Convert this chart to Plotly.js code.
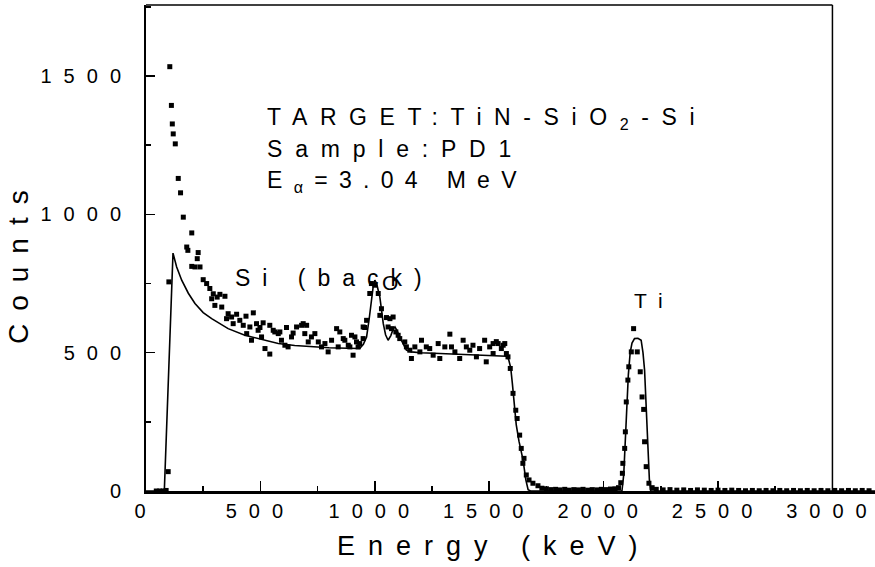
<!DOCTYPE html>
<html>
<head>
<meta charset="utf-8">
<script src="https://cdn.plot.ly/plotly-3.0.1.min.js"></script>
<style>
  html, body { margin: 0; padding: 0; background: #fff; }
  #chart { width: 875px; height: 567px; }
  .annotation-text { letter-spacing: 12px; }
  g.annotation[data-index="0"] .annotation-text { letter-spacing: 12.6px; }
  g.annotation[data-index="1"] .annotation-text { letter-spacing: 12.8px; }
  g.annotation[data-index="2"] .annotation-text { letter-spacing: 11.3px; }
  g.annotation[data-index="6"] .annotation-text,
  g.annotation[data-index="7"] .annotation-text { letter-spacing: 13px; }
</style>
</head>
<body>
<div id="chart"></div>
<script>
// ---- data ----
// experimental RBS spectrum (dots)
const expE = [45,60,75,88,97,100,104,111,115,119,
128,141,151,163,178,183,200,200,214,224,
228,236,250,265,279,287,294,301,311,323,
331,345,352,359,374,381,396,410,425,437,
440,454,461,469,483,490,498,505,512,520,
541,541,556,563,578,585,592,607,614,621,
636,643,658,680,687,694,702,709,723,738,
753,767,782,796,811,833,840,847,862,869,
884,891,898,905,913,920,927,934,949,949,
956,964,978,985,1000,1015,1022,1029,1051,1058,
1066,1073,1080,1092,1102,1109,1131,1138,1153,1160,
1175,1197,1204,1225,1240,1255,1277,1284,1306,1328,
1335,1350,1371,1386,1400,1415,1429,1444,1458,1480,
1487,1502,1517,1517,1531,1539,1553,1561,1568,1575,
1582,1592,1604,1616,1622,1633,1640,1647,1652,1662,
1674,1691,1713,1730,1750,1770,1790,1810,1830,1850,
1870,1890,1910,1930,1950,1970,1990,2010,2030,2050,
2065,2075,2082,2084,2092,2095,2099,2106,2110,2121,
2131,2147,2160,2168,2175,2179,2186,2198,2212,2230,
2260,2290,2320,2350,2380,2410,2440,2470,2500,2530,
2560,2590,2620,2650,2680,2710,2740,2770,2800,2830,
2860,2890,2920,2950,2980,3010,3040,3070,3100,3130,
3160];
const expCounts = [0,0,0,2,70,756,1534,1394,1327,1291,
1255,1130,1078,990,882,870,933,812,810,840,
862,810,764,750,732,695,713,671,701,711,
665,704,623,641,629,605,639,617,599,632,
569,593,545,644,605,581,591,557,608,515,
599,495,581,575,569,575,545,527,591,521,
557,571,593,599,605,569,599,539,557,569,
539,521,533,503,545,587,521,575,551,545,
527,521,563,491,557,539,521,533,551,593,
591,617,714,750,744,714,635,659,627,593,
623,587,629,575,563,551,539,521,509,479,
521,503,545,521,515,491,533,479,521,567,
521,503,479,545,521,509,527,485,515,545,
467,521,497,533,540,533,515,527,533,497,
485,443,353,292,262,202,154,100,118,58,
40,28,19,10,8,5,6,4,6,3,
5,4,6,3,5,4,6,5,7,8,
12,30,64,100,154,214,322,401,449,503,
587,503,431,340,295,178,88,28,12,6,
4,5,3,4,2,4,3,2,3,2,
3,2,1,2,1,2,1,2,1,2,
1,2,1,2,1,2,1,2,1,2,
1];

// simulated spectrum (solid line)
const simE = [0,80,118,134,156,185,214,250,287,359,
432,500,578,650,723,800,880,934,950,964,
975,985,993,1000,1008,1015,1022,1030,1037,1047,
1058,1070,1080,1088,1097,1107,1117,1128,1138,1160,
1200,1284,1400,1500,1575,1585,1594,1601,1608,1618,
1630,1648,1660,1670,1680,2080,2088,2099,2108,2116,
2124,2135,2150,2164,2172,2179,2186,2194,2200,2206,
3186];
const simCounts = [0,0,860,810,762,715,678,645,623,587,
563,548,533,526,521,518,516,515,530,557,
620,690,740,762,750,725,701,650,605,565,
545,562,585,593,580,560,545,527,509,503,
500,497,494,491,487,475,445,390,315,240,
180,112,40,5,0,0,60,256,420,500,
535,551,552,545,500,437,300,136,40,0,
0];

// ticks
const xTickVals = [0,500,1000,1500,2000,2500,3000];
const xTickText = ['0','500','1000','1500','2000','2500','3000'];
const yTickVals = [0,500,1000,1500];
const yTickText = ['0','500','1000','1500'];

// texts
const xTitle = 'Energy (keV)';
const yTitle = 'Counts';
const targetText = 'TARGET:TiN-SiO<sub>2</sub>-Si';
const sampleText = 'Sample:PD1';
const energyText = 'E<sub>α</sub>=3.04 MeV';
const siLabel = 'Si (back)';
const oLabel = 'O';
const tiLabel = 'Ti';

// wide letter spacing between characters (none after the last one)
function spaced(s, gap) {
  if (s.length < 2) return s;
  return '<span style="letter-spacing:' + gap + 'px">' + s.slice(0, -1) + '</span>' + s.slice(-1);
}

// ---- layout geometry (pixels) ----
const W = 875, H = 567;
const L = 146, R = 0, T = 5, B = 76;
const plotW = W - L - R, plotH = H - T - B;
function px(x) { return (x - L) / plotW; }
function py(y) { return (H - B - y) / plotH; }

const FONT = 'Liberation Sans, Arial, Helvetica, sans-serif';

const traces = [
  {
    x: simE, y: simCounts, type: 'scatter', mode: 'lines',
    line: { color: '#000', width: 1.6 }, hoverinfo: 'skip'
  },
  {
    x: expE, y: expCounts, type: 'scatter', mode: 'markers',
    marker: { color: '#000', size: 5, symbol: 'square' }, hoverinfo: 'skip'
  }
];

function ann(text, x, y, opts) {
  return Object.assign({
    text: text, xref: 'paper', yref: 'paper', x: px(x), y: py(y),
    xanchor: 'left', yanchor: 'middle', showarrow: false, align: 'left',
    font: { family: FONT, size: 23, color: '#000' }
  }, opts || {});
}

const annotations = [
  ann(targetText, 265, 118.5),
  ann(sampleText, 265, 148.5),
  ann(energyText, 265, 181),
  ann(siLabel, 233, 277.5),
  ann(oLabel, 396, 282, { xanchor: 'center', font: { family: FONT, size: 21, color: '#000' } }),
  ann(tiLabel, 632, 300, { font: { family: FONT, size: 21, color: '#000' } }),
  ann(yTitle, 18, 264, { xanchor: 'center', textangle: -90, font: { family: FONT, size: 28, color: '#000' } }),
  ann(xTitle, 488, 546, { xanchor: 'center', font: { family: FONT, size: 27, color: '#000' } })
];

const layout = {
  width: W, height: H,
  margin: { l: L, r: R, t: T, b: B, pad: 0 },
  paper_bgcolor: '#fff', plot_bgcolor: '#fff',
  showlegend: false,
  font: { family: FONT, color: '#000' },
  xaxis: {
    range: [0, 3186], fixedrange: true,
    showgrid: false, zeroline: false,
    showline: true, linecolor: '#000', linewidth: 2.5,
    tickmode: 'array', tickvals: xTickVals, ticktext: xTickText.map(function (s) { return spaced(s, 12); }),
    ticks: 'inside', ticklen: 10, tickwidth: 1.5, tickcolor: '#000',
    ticklabeloverflow: 'allow', ticklabelshift: -6,
    minor: { tickmode: 'linear', tick0: 0, dtick: 250, ticks: 'inside', ticklen: 5, tickwidth: 1.5, tickcolor: '#000', showgrid: false },
    tickfont: { family: FONT, size: 20, color: '#000' }
  },
  yaxis: {
    range: [0, 1757], fixedrange: true,
    showgrid: false, zeroline: false,
    showline: true, linecolor: '#000', linewidth: 2,
    tickmode: 'array', tickvals: yTickVals, ticktext: yTickText.map(function (s) { return spaced(s, 12); }),
    ticks: 'inside', ticklen: 9, tickwidth: 1.5, tickcolor: '#000',
    ticklabelstandoff: 19,
    minor: { tickmode: 'linear', tick0: 0, dtick: 250, ticks: 'inside', ticklen: 5, tickwidth: 1.5, tickcolor: '#000', showgrid: false },
    tickfont: { family: FONT, size: 20, color: '#000' }
  },
  shapes: [
    { type: 'line', xref: 'x', yref: 'paper', x0: 0, x1: 3000, y0: 1, y1: 1, line: { color: '#000', width: 1.5 } },
    { type: 'line', xref: 'x', yref: 'paper', x0: 3000, x1: 3000, y0: 0, y1: 1, line: { color: '#000', width: 1.5 } }
  ],
  annotations: annotations
};

Plotly.newPlot('chart', traces, layout, { staticPlot: true, displayModeBar: false });
</script>
</body>
</html>
